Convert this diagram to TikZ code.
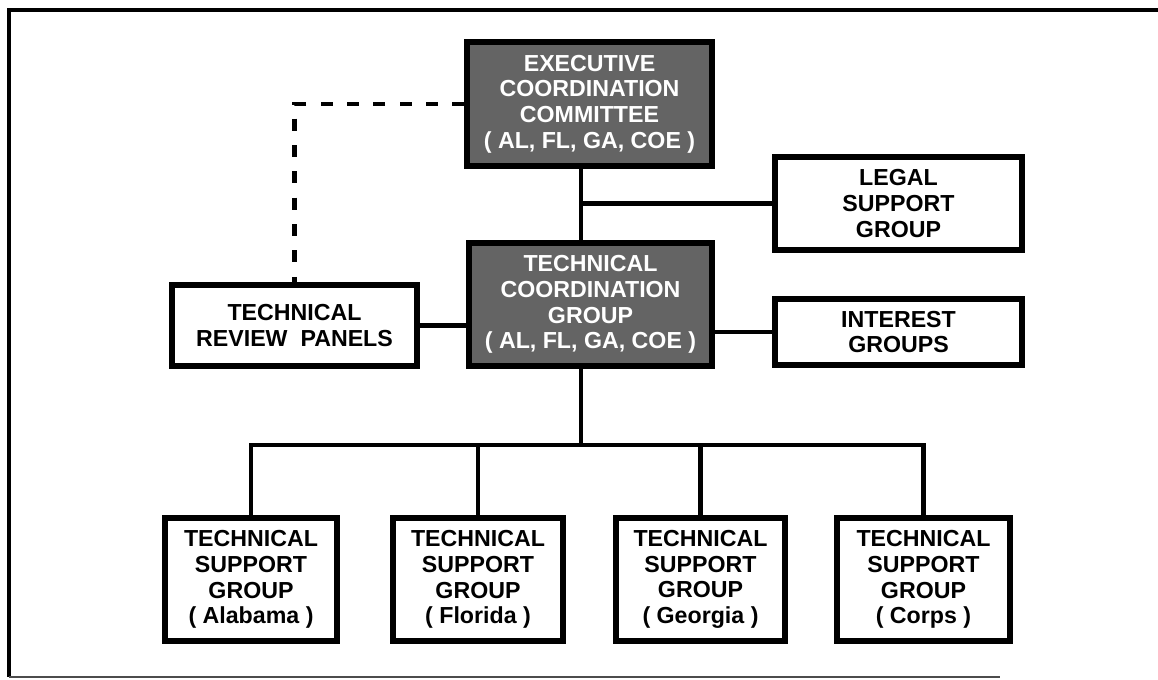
\documentclass[tikz,border=0pt]{standalone}
\usepackage{fontspec}
\setmainfont{Liberation Sans}
\usetikzlibrary{positioning, calc}
\definecolor{panelgray}{RGB}{100,100,100}

\begin{document}
\begin{tikzpicture}[x=0.02cm, y=-0.02cm,
	orgbox/.style={draw=black, line width=3.1pt, fill=white, align=center, inner sep=0pt,
		font=\bfseries\fontsize{13.2}{14.6}\selectfont},
	darkbox/.style={orgbox, fill=panelgray, text=white},
	link/.style={line width=2.6pt},
	dashlink/.style={link, dash pattern=on 6.8pt off 8.2pt}]
	\useasboundingbox (0,0) rectangle (1158,679);
	
	% frame
	\draw[line width=1.9pt] (1158,10) -- (9,10) -- (9,677);
	\draw[line width=1.1pt, black!70] (9,677) -- (1000,677);
	
	\node[darkbox, minimum width=4.9cm, minimum height=2.48cm] (exec) at (589.5,104) {EXECUTIVE\\COORDINATION\\COMMITTEE\\( AL, FL, GA, COE )};
	\node[darkbox, minimum width=4.86cm, minimum height=2.46cm] (tcg) at (590.5,304.5) {TECHNICAL\\COORDINATION\\GROUP\\( AL, FL, GA, COE )};
	
	\node[orgbox, minimum width=4.94cm, minimum height=1.86cm] (legal) at (898.5,203.5) {LEGAL\\SUPPORT\\GROUP};
	\node[orgbox, minimum width=4.94cm, minimum height=1.32cm] (interest) at (898.5,332) {INTEREST\\GROUPS};
	\node[orgbox, minimum width=4.9cm, minimum height=1.62cm] (review) at (294.5,325.5) {TECHNICAL\\REVIEW~~PANELS};
	
	\node[orgbox, minimum width=3.44cm, minimum height=2.46cm] (ala) at (251,579.5) {TECHNICAL\\SUPPORT\\GROUP\\( Alabama )};
	\node[orgbox, minimum width=3.4cm, minimum height=2.46cm] (flo) at (478,579.5) {TECHNICAL\\SUPPORT\\GROUP\\( Florida )};
	\node[orgbox, minimum width=3.38cm, minimum height=2.46cm] (geo) at (700.5,579.5) {TECHNICAL\\SUPPORT\\GROUP\\( Georgia )};
	\node[orgbox, minimum width=3.46cm, minimum height=2.46cm] (corps) at (923.5,579.5) {TECHNICAL\\SUPPORT\\GROUP\\( Corps )};
	
	\coordinate (trunk) at (581,0);
	\coordinate (bus) at (0,445);
	
	\draw[link] (exec.south -| trunk) -- (tcg.north -| trunk);
	\draw[link] (legal.west) -- (legal.west -| trunk);
	\draw[dashlink] (exec.west) -| (review.north);
	\draw[link] (review.east) -- (review.east -| tcg.west);
	\draw[link] (interest.west) -- (interest.west -| tcg.east);
	
	\draw[link] (tcg.south -| trunk) -- (bus -| trunk);
	\draw[link] (ala.north) -- (ala.north |- bus) -- (corps.north |- bus) -- (corps.north);
	\foreach \g in {flo, geo}
		\draw[link] (\g.north) -- (\g.north |- bus);
\end{tikzpicture}
\end{document}
